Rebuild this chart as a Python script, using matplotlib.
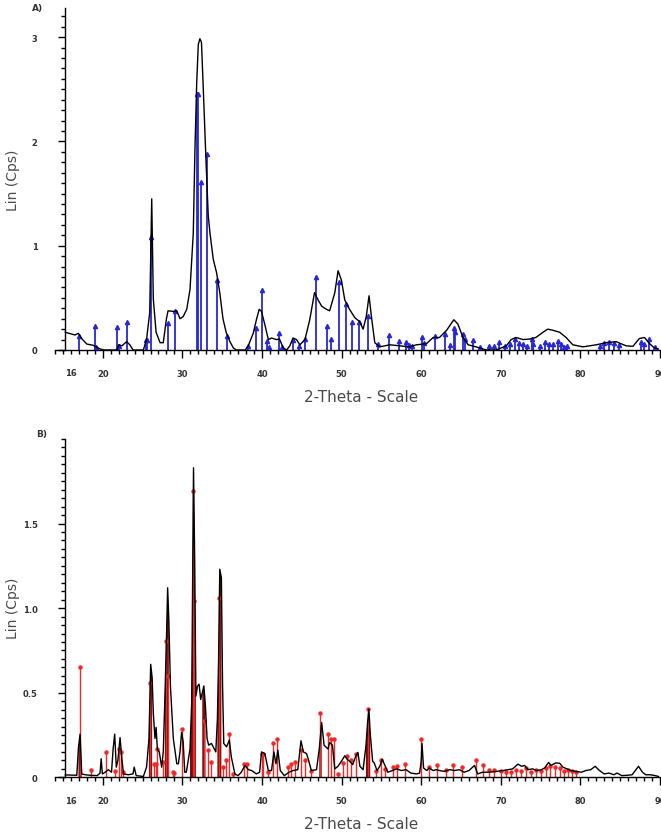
import numpy as np
import matplotlib
matplotlib.use("Agg")
import matplotlib.pyplot as plt
from matplotlib.ticker import FixedLocator, MultipleLocator, FuncFormatter

# Panel A: measured pattern (2-theta, Lin Cps)
a_x = [15.3, 16.5, 16.94, 17.4, 18.0, 18.8, 19.66, 20.2, 21.76, 22.0, 22.4, 23.0, 23.4, 23.8,
       25.1, 25.5, 25.9, 26.15, 26.35, 26.7, 27.2, 27.6, 28.0, 28.2, 28.9, 29.3, 29.7, 30.1,
       30.55, 30.96, 31.37, 31.58, 31.8, 32.0, 32.2, 32.4, 32.6, 32.96, 33.25, 33.47, 33.88,
       34.3, 34.7, 35.1, 35.5, 35.98, 36.4, 36.8, 37.9, 38.27, 38.9, 39.3, 39.65, 39.94, 40.37,
       40.8, 41.2, 41.8, 42.2, 42.67, 43.1, 43.5, 43.9, 44.34, 44.76, 45.4, 46.0, 46.6, 47.05,
       47.5, 48.1, 48.5, 49.15, 49.56, 49.98, 50.4, 51.0, 51.66, 52.3, 52.7, 53.1, 53.45, 53.75,
       54.17, 54.8, 56.05, 57.3, 58.56, 59.4, 60.65, 61.5, 62.3, 63.2, 64.1, 64.6, 65.25, 65.9,
       66.9, 68.2, 69.4, 70.7, 71.3, 71.9, 72.8, 73.6, 74.4, 75.3, 75.9, 76.5, 77.4, 78.2, 79.05,
       80.3, 82.0, 83.2, 84.5, 85.75, 86.6, 87.4, 88.05, 88.7, 89.3, 89.8]
a_y = [0.17, 0.144, 0.16, 0.105, 0.057, 0.045, 0.01, 0.0, 0.0, 0.05, 0.04, 0.08, 0.05, 0.0,
       0.0, 0.1, 0.36, 1.45, 0.49, 0.17, 0.07, 0.07, 0.30, 0.376, 0.37, 0.376, 0.30, 0.32,
       0.39, 0.58, 1.12, 1.92, 2.56, 2.93, 2.985, 2.95, 2.56, 1.83, 1.29, 1.12, 0.87,
       0.74, 0.55, 0.30, 0.17, 0.08, 0.02, 0.0, 0.0, 0.04, 0.16, 0.29, 0.39, 0.37, 0.24,
       0.10, 0.115, 0.10, 0.105, 0.02, 0.0, 0.04, 0.115, 0.10, 0.05, 0.10, 0.29, 0.55, 0.48,
       0.42, 0.39, 0.376, 0.55, 0.76, 0.67, 0.48, 0.39, 0.31, 0.27, 0.20, 0.32, 0.52, 0.32,
       0.07, 0.03, 0.05, 0.04, 0.03, 0.05, 0.06, 0.12, 0.12, 0.19, 0.29, 0.25, 0.12, 0.05,
       0.03, 0.0, 0.0, 0.04, 0.10, 0.12, 0.10, 0.105, 0.12, 0.17, 0.20, 0.19, 0.17, 0.12, 0.05,
       0.03, 0.05, 0.07, 0.08, 0.04, 0.035, 0.11, 0.12, 0.06, 0.02, 0.01]

# Panel A: reference lines (blue)
a_pos = [17.03, 19.0, 19.1, 21.83, 22.0, 23.05, 25.4, 25.55, 26.0, 28.23, 29.07, 31.8, 31.92,
         32.3, 33.05, 34.3, 35.56, 38.27, 39.24, 39.95, 40.57, 40.9, 42.1, 42.5, 43.9, 44.6,
         45.4, 46.77, 48.23, 48.73, 49.65, 50.6, 51.37, 52.2, 53.3, 54.6, 55.96, 57.2, 58.15,
         58.5, 58.8, 60.1, 60.4, 61.7, 62.95, 63.6, 64.1, 64.3, 65.2, 65.5, 66.5, 67.4, 68.55,
         69.1, 69.77, 70.5, 71.1, 71.75, 72.3, 72.77, 73.3, 73.95, 74.1, 74.9, 75.6, 76.0, 76.5,
         77.2, 77.6, 77.9, 78.3, 82.4, 83.0, 83.6, 84.2, 84.9, 87.6, 88.0, 88.6, 89.4]
a_int = [0.13, 0.23, 0.03, 0.22, 0.04, 0.27, 0.10, 0.10, 1.085, 0.26, 0.37, 2.46, 2.46,
         1.61, 1.88, 0.67, 0.13, 0.035, 0.21, 0.58, 0.09, 0.03, 0.16, 0.03, 0.10, 0.035,
         0.11, 0.70, 0.23, 0.105, 0.65, 0.44, 0.265, 0.265, 0.33, 0.06, 0.14, 0.09, 0.08,
         0.05, 0.04, 0.12, 0.07, 0.13, 0.15, 0.05, 0.21, 0.17, 0.15, 0.11, 0.096, 0.03, 0.04,
         0.035, 0.08, 0.04, 0.06, 0.105, 0.07, 0.06, 0.04, 0.11, 0.06, 0.04, 0.08, 0.06, 0.06,
         0.09, 0.06, 0.03, 0.04, 0.04, 0.07, 0.08, 0.065, 0.05, 0.08, 0.06, 0.11, 0.03]

# Panel B: measured pattern
b_x = [15.3, 16.5, 16.74, 16.95, 17.15, 17.36, 17.8, 18.4, 19.3, 19.66, 19.8, 19.95, 20.3, 20.7,
       21.1, 21.3, 21.5, 21.7, 21.9, 22.17, 22.4, 22.6, 23.2, 23.8, 23.95, 24.2, 25.1, 25.5,
       25.8, 26.02, 26.2, 26.35, 26.56, 26.7, 26.86, 27.1, 27.4, 27.6, 27.8, 28.0, 28.15, 28.3,
       28.5, 28.86, 29.3, 29.5, 29.7, 29.9, 30.1, 30.3, 30.5, 30.96, 31.17, 31.3, 31.4, 31.55,
       31.7, 31.9, 32.1, 32.3, 32.5, 32.7, 32.9, 33.1, 33.3, 33.65, 33.88, 34.2, 34.4, 34.55,
       34.7, 34.9, 35.05, 35.2, 35.55, 35.9, 36.15, 36.6, 37.0, 37.4, 37.86, 38.3, 38.7, 39.3,
       39.7, 39.95, 40.36, 40.8, 41.2, 41.5, 41.75, 42.0, 42.3, 42.8, 43.4, 43.9, 44.5, 44.9,
       45.2, 45.6, 45.8, 46.2, 46.85, 47.2, 47.5, 47.8, 48.3, 48.5, 48.85, 49.15, 49.55, 49.98,
       50.4, 50.7, 51.0, 51.4, 51.8, 52.05, 52.3, 52.7, 53.06, 53.27, 53.43, 53.6, 53.9, 54.1,
       54.45, 54.8, 55.1, 55.4, 55.8, 56.4, 56.9, 57.5, 58.1, 58.7, 59.4, 59.8, 60.0, 60.1,
       60.3, 60.7, 61.0, 61.5, 61.9, 62.3, 62.9, 63.6, 64.2, 64.8, 65.4, 66.0, 66.7, 67.1,
       67.7, 68.6, 70.3, 71.5, 72.15, 72.6, 73.0, 73.4, 74.0, 74.5, 75.1, 75.5, 76.0, 76.3,
       76.9, 77.4, 77.8, 78.3, 78.8, 79.4, 80.1, 80.7, 81.3, 81.85, 82.4, 83.0, 83.6, 84.2,
       84.6, 85.2, 85.9, 86.5, 87.3, 87.8, 88.2, 88.8, 89.4, 89.8]
b_y = [0.014, 0.012, 0.012, 0.177, 0.255, 0.02, 0.015, 0.012, 0.01, 0.025, 0.11, 0.02, 0.03, 0.045,
       0.03, 0.167, 0.255, 0.06, 0.10, 0.235, 0.11, 0.02, 0.015, 0.02, 0.06, 0.01, 0.005, 0.06,
       0.226, 0.668, 0.59, 0.38, 0.23, 0.295, 0.167, 0.15, 0.06, 0.15, 0.46, 0.816, 1.12, 0.93,
       0.54, 0.23, 0.08, 0.08, 0.15, 0.265, 0.21, 0.03, 0.03, 0.167, 0.44, 1.23, 1.83, 1.27,
       0.48, 0.54, 0.55, 0.46, 0.50, 0.54, 0.42, 0.23, 0.19, 0.20, 0.18, 0.15, 0.344, 0.70,
       1.23, 1.18, 0.54, 0.20, 0.18, 0.22, 0.12, 0.02, 0.01, 0.03, 0.07, 0.045, 0.04, 0.02,
       0.03, 0.15, 0.14, 0.04, 0.04, 0.15, 0.08, 0.16, 0.04, 0.01, 0.03, 0.04, 0.045, 0.216,
       0.15, 0.14, 0.11, 0.04, 0.045, 0.17, 0.324, 0.19, 0.167, 0.206, 0.19, 0.05, 0.065, 0.095,
       0.127, 0.107, 0.095, 0.075, 0.127, 0.147, 0.065, 0.045, 0.185, 0.325, 0.403, 0.26, 0.095, 0.085,
       0.04, 0.065, 0.107, 0.075, 0.03, 0.04, 0.05, 0.04, 0.045, 0.025, 0.02, 0.025, 0.095, 0.20,
       0.055, 0.04, 0.055, 0.04, 0.045, 0.04, 0.035, 0.045, 0.04, 0.045, 0.03, 0.04, 0.07, 0.02,
       0.03, 0.03, 0.04, 0.05, 0.078, 0.065, 0.07, 0.045, 0.05, 0.04, 0.045, 0.055, 0.088, 0.07,
       0.085, 0.083, 0.06, 0.05, 0.04, 0.035, 0.03, 0.04, 0.045, 0.065, 0.04, 0.02, 0.025, 0.015,
       0.025, 0.01, 0.012, 0.015, 0.065, 0.03, 0.015, 0.015, 0.01, 0.005]

# Panel B: reference lines (red)
b_pos = [17.15, 18.5, 20.4, 21.5, 22.1, 22.3, 22.6, 25.9, 26.45, 26.65, 26.87, 27.6, 28.0, 28.15,
         28.78, 29.0, 29.9, 31.3, 31.45, 32.7, 33.2, 33.65, 34.65, 35.1, 35.5, 35.8, 36.4, 37.7,
         38.1, 39.95, 40.15, 40.8, 41.4, 41.95, 43.3, 43.7, 44.2, 44.9, 45.4, 46.2, 47.35, 48.3,
         48.7, 49.0, 49.55, 50.2, 50.7, 51.2, 51.8, 53.33, 54.35, 55.0, 55.4, 56.4, 57.0, 58.0,
         60.0, 61.0, 62.0, 63.1, 64.0, 65.1, 66.9, 67.8, 68.5, 69.2, 70.0, 70.7, 71.3, 71.9,
         72.6, 73.2, 73.8, 74.4, 75.1, 75.7, 76.2, 76.8, 77.4, 77.9, 78.4, 79.0, 79.5]
b_int = [0.655, 0.045, 0.15, 0.04, 0.167, 0.15, 0.03, 0.56, 0.08, 0.08, 0.17, 0.09, 0.806, 0.6,
         0.03, 0.025, 0.285, 1.695, 1.04, 0.334, 0.16, 0.09, 1.06, 0.06, 0.10, 0.255, 0.02, 0.08,
         0.08, 0.14, 0.14, 0.03, 0.20, 0.226, 0.06, 0.08, 0.09, 0.16, 0.10, 0.04, 0.38, 0.255,
         0.226, 0.226, 0.02, 0.085, 0.127, 0.10, 0.14, 0.403, 0.04, 0.10, 0.05, 0.06, 0.065, 0.08,
         0.226, 0.06, 0.075, 0.045, 0.075, 0.06, 0.10, 0.075, 0.045, 0.045, 0.039, 0.033, 0.029, 0.045,
         0.039, 0.053, 0.033, 0.045, 0.039, 0.053, 0.069, 0.059, 0.053, 0.039, 0.045, 0.039, 0.033]

a_yticks = [0, 1, 2, 3]
a_ylabels = ["0", "1", "2", "3"]
b_yticks = [0, 0.5, 1.0, 1.5]
b_ylabels = ["0", "0.5", "1.0", "1.5"]
x_major = [20, 30, 40, 50, 60, 70, 80, 90]

fig = plt.figure(figsize=(6.61, 8.37), dpi=100)
W, H = 661, 837

tick_font = dict(fontsize=6, fontweight="bold", color="#333333")
label_color = "#4a4a4a"


def style_axes(ax, ymax, yticks, ylabels, yminor):
    ax.set_xlim(14.0, 90.0)
    ax.set_ylim(0, ymax)
    for s in ["top", "right"]:
        ax.spines[s].set_visible(False)
    ax.spines["left"].set_position(("data", 15.3))
    ax.spines["left"].set_linewidth(1.0)
    ax.spines["bottom"].set_linewidth(1.0)
    ax.xaxis.set_major_locator(FixedLocator(x_major))
    ax.xaxis.set_minor_locator(MultipleLocator(1))
    ax.xaxis.set_minor_formatter(FuncFormatter(lambda v, p: "16" if abs(v - 16) < 0.01 else ""))
    ax.set_xticklabels([str(v) for v in x_major])
    ax.yaxis.set_major_locator(FixedLocator(yticks))
    ax.set_yticklabels(ylabels)
    ax.yaxis.set_minor_locator(MultipleLocator(yminor))
    ax.tick_params(axis="x", which="major", direction="out", length=5.8, width=1, pad=7.6)
    ax.tick_params(axis="x", which="minor", direction="out", length=2.9, width=1, pad=10.4)
    ax.tick_params(axis="y", which="major", direction="out", length=5, width=1, pad=15)
    ax.tick_params(axis="y", which="minor", direction="out", length=2.9, width=1)
    for lab in ax.get_xticklabels(which="both") + ax.get_yticklabels():
        lab.set_fontsize(tick_font["fontsize"])
        lab.set_fontweight(tick_font["fontweight"])
        lab.set_color(tick_font["color"])


# ---- Panel A ----
ax1 = fig.add_axes([55 / W, (H - 351) / H, 605 / W, 342 / H])
style_axes(ax1, 3.28, a_yticks, a_ylabels, 0.1)
ax1.vlines(a_pos, 0, a_int, color="#2727d8", linewidth=1.3, zorder=2)
ax1.plot(a_pos, a_int, linestyle="none", marker="^", markersize=3, color="#2727d8", zorder=3)
ax1.plot(a_x, a_y, color="black", linewidth=1.0, zorder=4)

# ---- Panel B ----
ax2 = fig.add_axes([55 / W, (H - 778.3) / H, 605 / W, 338.3 / H])
style_axes(ax2, 2.0, b_yticks, b_ylabels, 0.05)
bx = np.array(b_x)
by = np.array(b_y)
strong = [p for p, h in zip(b_pos, b_int) if h > 0.3]
near = np.zeros(len(bx), dtype=bool)
for p in strong:
    near |= np.abs(bx - p) < 0.35
ax2.fill_between(bx, 0, by, where=near, color="#7a0c0c", linewidth=0, zorder=1)
ax2.vlines(b_pos, 0, b_int, color="#f02828", linewidth=1.0, zorder=2)
ax2.plot(b_pos, b_int, linestyle="none", marker="o", markersize=2.2, color="#f02828", zorder=3)
ax2.plot(b_x, b_y, color="black", linewidth=1.0, zorder=4)

# ---- labels ----
fig.text(38 / W, 1 - 9 / H, "A)", fontsize=6.5, fontweight="bold", color="#333333",
         ha="center", va="center")
fig.text(42 / W, 1 - 435 / H, "B)", fontsize=6.5, fontweight="bold", color="#333333",
         ha="center", va="center")
for yc in [180, 608.5]:
    fig.text(13 / W, 1 - yc / H, "Lin (Cps)", fontsize=10, color=label_color,
             rotation=90, ha="center", va="center")
for yc in [397, 825]:
    fig.text(361 / W, 1 - yc / H, "2-Theta - Scale", fontsize=11, color=label_color,
             ha="center", va="center")

fig.savefig("out.png", dpi=100)
